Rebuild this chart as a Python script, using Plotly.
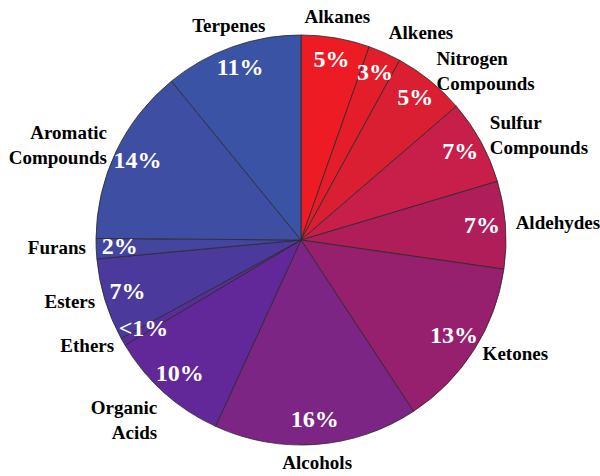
import numpy as np
import plotly.graph_objects as go

categories = ["Alkanes", "Alkenes", "Nitrogen<br>Compounds", "Sulfur<br>Compounds", "Aldehydes",
              "Ketones", "Alcohols", "Organic<br>Acids", "Ethers", "Esters", "Furans",
              "Aromatic<br>Compounds", "Terpenes"]
shares = [5.4, 2.6, 5.7, 6.7, 6.9, 13.5, 16.1, 9.6, 0.6, 6.5, 1.6, 14.0, 10.9]
pct_labels = ["5%", "3%", "5%", "7%", "7%", "13%", "16%", "10%", "<1%", "7%", "2%", "14%", "11%"]
colors = ["#ED1C24", "#E41D2B", "#DA1F33", "#C81E4A", "#B01E5A", "#961F6E", "#7C2585",
          "#62289A", "#5A2E9A", "#4B3A9C", "#44459F", "#3E4EA3", "#3A53A4"]
label_pos = ["top center", "top right", "middle right", "middle right", "middle right",
             "middle right", "bottom center", "bottom left", "middle left", "middle left",
             "middle left", "middle left", "top center"]

W, H = 600, 476
cx, cy, R = 301, 240, 205
RMAX = 1.06
SERIF = "Liberation Serif"

vals = np.array(shares, dtype=float)
widths = vals / vals.sum() * 360.0
mids = np.cumsum(widths) - widths / 2.0

fig = go.Figure()
fig.add_trace(go.Barpolar(
    r=[1.0] * len(shares), theta=mids, width=widths, base=0,
    marker=dict(color=colors, line=dict(color="#2a2a2a", width=0.8)),
    showlegend=False, hoverinfo="skip"))
fig.add_trace(go.Scatterpolar(
    r=[0.885] * len(shares), theta=mids, mode="text",
    text=["<b>%s</b>" % t for t in pct_labels], textposition="middle center",
    textfont=dict(family=SERIF, size=24, color="white"),
    cliponaxis=False, showlegend=False, hoverinfo="skip"))
fig.add_trace(go.Scatterpolar(
    r=[1.05] * len(shares), theta=mids, mode="text",
    text=["<b>%s</b>" % t for t in categories], textposition=label_pos,
    textfont=dict(family=SERIF, size=19, color="black"),
    cliponaxis=False, showlegend=False, hoverinfo="skip"))

Rd = R * RMAX
fig.update_layout(
    width=W, height=H, margin=dict(l=0, r=0, t=0, b=0),
    paper_bgcolor="white", font=dict(family=SERIF),
    polar=dict(
        domain=dict(x=[(cx - Rd) / W, (cx + Rd) / W], y=[(H - cy - Rd) / H, (H - cy + Rd) / H]),
        bgcolor="rgba(0,0,0,0)", hole=0, bargap=0,
        radialaxis=dict(range=[0, RMAX], visible=False),
        angularaxis=dict(rotation=90, direction="clockwise", showgrid=False,
                         showticklabels=False, ticks="", showline=False)))
fig.write_html("out.html", config={"displayModeBar": False},
               post_script="document.body.style.margin='0px';")
